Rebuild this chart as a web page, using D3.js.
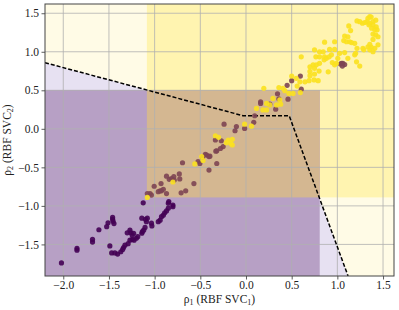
<!DOCTYPE html>
<html>
<head>
<meta charset="utf-8">
<script src="https://cdn.jsdelivr.net/npm/d3@7"></script>
<style>
  body { margin: 0; background: #fff; }
  svg text { font-family: "Liberation Serif", "DejaVu Serif", serif; }
</style>
</head>
<body>
<div id="chart"></div>
<script>
// axis ticks
var xTicks = [-2.0, -1.5, -1.0, -0.5, 0.0, 0.5, 1.0, 1.5];
var yTicks = [-1.5, -1.0, -0.5, 0.0, 0.5, 1.0, 1.5];
var xDomain = [-2.2, 1.62];
var yDomain = [-1.91, 1.62];

// decision boundary (dashed) and the two threshold boxes
var boundary = [[-2.2, 0.858], [-0.032, 0.17], [0.473, 0.17], [1.117, -1.91]];
var yellowBox = [-1.085, -0.89];   // x > , y >
var purpleBox = [0.807, 0.504];    // x < , y <

// class 0 (dark purple)
var class0 = [
  [-2.02, -1.74], [-1.85, -1.55], [-1.85, -1.575], [-1.68, -1.435], [-1.68, -1.47],
  [-1.61, -1.31], [-1.525, -1.27], [-1.51, -1.22], [-1.46, -1.175], [-1.455, -1.20],
  [-1.445, -1.23], [-1.46, -1.15], [-1.49, -1.52], [-1.47, -1.61], [-1.435, -1.61],
  [-1.405, -1.625], [-1.37, -1.595], [-1.35, -1.565], [-1.34, -1.54], [-1.325, -1.51],
  [-1.29, -1.49], [-1.27, -1.445], [-1.245, -1.435], [-1.225, -1.445], [-1.20, -1.42],
  [-1.185, -1.40], [-1.27, -1.315], [-1.26, -1.35], [-1.245, -1.38], [-1.23, -1.355],
  [-1.30, -1.35], [-1.14, -1.355], [-1.135, -1.335], [-1.12, -1.315], [-1.105, -1.28],
  [-1.09, -1.205], [-1.08, -1.16], [-1.10, -1.175], [-1.035, -1.225], [-1.03, -1.26],
  [-0.96, -1.205], [-0.94, -1.185], [-0.925, -1.14], [-0.905, -1.12], [-0.89, -1.09],
  [-0.87, -1.065], [-0.85, -1.03], [-0.845, -0.945], [-0.80, -0.99], [-0.80, -1.01],
  [-1.125, -0.96], [-1.14, -1.16], [-0.85, -0.965]
];

// class 1 (brown)
var class1 = [
  [-1.05, -0.84], [-1.035, -0.86], [-1.08, -0.84], [-1.005, -0.745], [-0.96, -0.815],
  [-0.94, -0.805], [-0.925, -0.805], [-0.905, -0.785], [-0.87, -0.84], [-0.93, -0.71],
  [-0.87, -0.615], [-0.84, -0.655], [-0.815, -0.645], [-0.79, -0.62], [-0.785, -0.665],
  [-0.73, -0.585], [-0.725, -0.65], [-0.71, -0.83], [-0.66, -0.805], [-0.695, -0.44],
  [-0.57, -0.71], [-0.525, -0.425], [-0.505, -0.45], [-0.475, -0.37], [-0.445, -0.33],
  [-0.43, -0.34], [-0.405, -0.36], [-0.395, -0.355], [-0.32, -0.285], [-0.32, -0.45],
  [-0.405, -0.535], [-0.24, 0.06], [-0.12, -0.025], [-0.105, 0.03], [-0.335, -0.145],
  [-0.27, -0.155], [-0.25, -0.23], [-0.28, -0.255], [-0.33, -0.29], [-0.015, 0.005],
  [0.085, 0.085], [0.095, 0.17], [0.16, 0.35], [0.16, 0.33], [0.26, 0.32],
  [0.325, 0.255], [0.345, 0.455], [0.36, 0.39], [0.46, 0.385], [0.45, 0.565],
  [0.50, 0.625], [0.595, 0.685], [0.605, 0.515], [1.045, 0.85], [1.06, 0.85],
  [1.035, 0.84], [1.08, 0.835], [1.055, 0.815]
];

// class 2 (yellow)
var class2 = [
  [-1.08, -0.89], [-0.80, -0.69], [-0.56, -0.455], [-0.485, -0.36], [-0.47, -0.41],
  [-0.335, -0.09], [-0.30, -0.11], [-0.215, -0.18], [-0.195, -0.145], [-0.15, -0.135],
  [-0.15, -0.21], [-0.165, -0.19], [-0.015, 0.06], [0.06, 0.035], [0.115, 0.265],
  [0.185, 0.245], [0.225, 0.245], [0.26, 0.31], [0.225, 0.33], [0.295, 0.395],
  [0.37, 0.375], [0.38, 0.32], [0.335, 0.31], [0.195, 0.525], [0.36, 0.535],
  [0.425, 0.495], [0.47, 0.46], [0.56, 0.555], [0.595, 0.47], [0.50, 0.685],
  [0.55, 0.655], [0.59, 0.61], [0.645, 0.61], [0.69, 0.625], [0.745, 0.635],
  [0.79, 0.625], [0.70, 0.69], [0.75, 0.71], [0.70, 0.805], [0.735, 0.83],
  [0.77, 0.83], [0.605, 0.935], [0.70, 0.745], [0.80, 0.75], [0.90, 0.74],
  [0.405, 0.525], [0.515, 0.46], [0.75, 0.785], [0.805, 0.85], [0.855, 0.895],
  [0.88, 0.915], [0.91, 0.935], [0.945, 0.86], [0.97, 0.83], [0.99, 0.85],
  [0.75, 1.025], [0.805, 1.00], [0.845, 1.00], [0.915, 1.03], [0.97, 1.03],
  [1.025, 0.98], [1.08, 0.99], [0.765, 0.935], [0.805, 0.935], [0.86, 0.935],
  [0.935, 0.96], [1.005, 0.915], [1.115, 0.915], [1.19, 0.96], [1.21, 0.87],
  [1.245, 0.815], [0.86, 1.125], [0.97, 1.13], [1.08, 1.205], [1.115, 1.195],
  [1.07, 1.145], [1.10, 1.13], [1.135, 1.13], [1.155, 1.12], [1.19, 1.11],
  [1.215, 1.045], [1.20, 0.98], [1.28, 1.045], [1.29, 1.025], [1.335, 1.065],
  [1.355, 1.095], [1.125, 1.335], [1.145, 1.275], [1.355, 1.455], [1.335, 1.435],
  [1.37, 1.45], [1.325, 1.39], [1.355, 1.37], [1.39, 1.39], [1.42, 1.41],
  [1.39, 1.35], [1.425, 1.325], [1.41, 1.29], [1.435, 1.285], [1.375, 1.305],
  [1.345, 1.35], [1.30, 1.38], [1.275, 1.37], [1.245, 1.39], [1.215, 1.40],
  [1.39, 1.23], [1.42, 1.22], [1.445, 1.195], [1.39, 1.16], [1.445, 1.09],
  [1.41, 1.045], [1.37, 1.06], [1.355, 1.025], [1.39, 1.00]
];

var margin = { top: 4, right: 5, bottom: 34, left: 45 },
    width = 399 - margin.left - margin.right,
    height = 310 - margin.top - margin.bottom;

var svg = d3.select("#chart").append("svg")
    .attr("width", 399)
    .attr("height", 310);
var g = svg.append("g")
    .attr("transform", "translate(" + margin.left + "," + margin.top + ")");

var x = d3.scaleLinear().domain(xDomain).range([0, width]);
var y = d3.scaleLinear().domain(yDomain).range([height, 0]);

g.append("clipPath").attr("id", "clip")
  .append("rect").attr("width", width).attr("height", height);
var plot = g.append("g").attr("clip-path", "url(#clip)");

// background: light yellow above the boundary
plot.append("rect").attr("width", width).attr("height", height).attr("fill", "#fffbe6");

// light lavender below the boundary
var below = boundary.concat([[xDomain[1], yDomain[0]], [xDomain[0], yDomain[0]]]);
plot.append("path")
    .attr("d", d3.line().x(d => x(d[0])).y(d => y(d[1]))(below) + "Z")
    .attr("fill", "#e7e1f2");

// yellow box
plot.append("rect")
    .attr("x", x(yellowBox[0])).attr("y", 0)
    .attr("width", width - x(yellowBox[0])).attr("height", y(yellowBox[1]))
    .attr("fill", "#fff4b0");
// purple box
plot.append("rect")
    .attr("x", 0).attr("y", y(purpleBox[1]))
    .attr("width", x(purpleBox[0])).attr("height", height - y(purpleBox[1]))
    .attr("fill", "#b7a0c5");
// overlap
plot.append("rect")
    .attr("x", x(yellowBox[0])).attr("y", y(purpleBox[1]))
    .attr("width", x(purpleBox[0]) - x(yellowBox[0]))
    .attr("height", y(yellowBox[1]) - y(purpleBox[1]))
    .attr("fill", "#d4b791");

// grid
plot.selectAll(".gx").data(xTicks).enter().append("line")
    .attr("x1", d => x(d)).attr("x2", d => x(d))
    .attr("y1", 0).attr("y2", height)
    .attr("stroke", "#b0b0b0").attr("stroke-width", 0.8);
plot.selectAll(".gy").data(yTicks).enter().append("line")
    .attr("y1", d => y(d)).attr("y2", d => y(d))
    .attr("x1", 0).attr("x2", width)
    .attr("stroke", "#b0b0b0").attr("stroke-width", 0.8);

// dashed boundary
plot.append("path")
    .attr("d", d3.line().x(d => x(d[0])).y(d => y(d[1]))(boundary))
    .attr("fill", "none").attr("stroke", "#000")
    .attr("stroke-width", 1.5).attr("stroke-dasharray", "4,2");

// points
function drawPoints(data, color) {
    plot.append("g").selectAll("circle").data(data).enter().append("circle")
        .attr("cx", d => x(d[0])).attr("cy", d => y(d[1]))
        .attr("r", 2.6)
        .attr("fill", color).attr("fill-opacity", 0.9);
}
drawPoints(class0, "#440154");
drawPoints(class1, "#7d4553");
drawPoints(class2, "#fbe11f");

// axes
var xAxis = g.append("g")
    .attr("transform", "translate(0," + height + ")")
    .call(d3.axisBottom(x).tickValues(xTicks).tickFormat(d3.format(".1f"))
        .tickSizeOuter(0).tickSize(3.5).tickPadding(1.5));
var yAxis = g.append("g")
    .call(d3.axisLeft(y).tickValues(yTicks).tickFormat(d3.format(".1f"))
        .tickSizeOuter(0).tickSize(3.5).tickPadding(2.5));
[xAxis, yAxis].forEach(function (a) {
    a.select(".domain").remove();
    a.selectAll("line").attr("stroke", "#333").attr("stroke-width", 0.8);
    a.selectAll("text").attr("font-size", 11.5).attr("fill", "#222")
        .style("font-family", "'Liberation Serif', serif");
});
xAxis.selectAll("text").attr("dy", "0.72em");

// frame
g.append("rect").attr("width", width).attr("height", height)
    .attr("fill", "none").attr("stroke", "#444").attr("stroke-width", 1);

// axis labels
var xl = svg.append("text")
    .attr("x", margin.left + width / 2).attr("y", 303)
    .attr("text-anchor", "middle").attr("font-size", 11.5).attr("fill", "#222");
xl.append("tspan").text("ρ");
xl.append("tspan").attr("baseline-shift", "-25%").attr("font-size", 8).text("1");
xl.append("tspan").text(" (RBF SVC");
xl.append("tspan").attr("baseline-shift", "-25%").attr("font-size", 8).text("1");
xl.append("tspan").text(")");

var yl = svg.append("text")
    .attr("transform", "translate(11," + (margin.top + height / 2) + ") rotate(-90)")
    .attr("text-anchor", "middle").attr("font-size", 11.5).attr("fill", "#222");
yl.append("tspan").text("ρ");
yl.append("tspan").attr("baseline-shift", "-25%").attr("font-size", 8).text("2");
yl.append("tspan").text(" (RBF SVC");
yl.append("tspan").attr("baseline-shift", "-25%").attr("font-size", 8).text("2");
yl.append("tspan").text(")");
</script>
</body>
</html>
